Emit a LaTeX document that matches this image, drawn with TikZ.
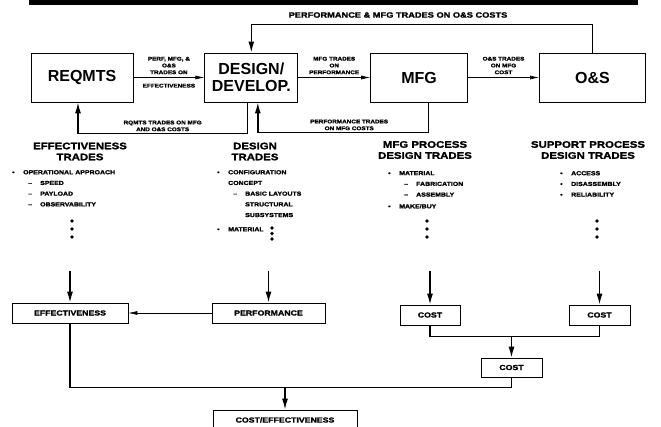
\documentclass[tikz,border=0pt]{standalone}
\usepackage{fontspec}
\setmainfont{Liberation Sans}[FakeStretch=1.2,BoldFeatures={FakeBold=1.6}]
\newfontfamily\boxfont{Liberation Sans}
\usetikzlibrary{arrows.meta,positioning,calc}
\newcommand{\bul}{\makebox[11pt][l]{\textbullet}}
\newcommand{\dsh}{\hspace*{16pt}\makebox[12pt][l]{--}}

\begin{document}
\begin{tikzpicture}[x=1pt,y=-1pt,>=Latex,
  big/.style={draw,line width=0.8pt,minimum width=#1,minimum height=49pt,inner sep=0pt,
    align=center,font=\boxfont\fontsize{16}{17}\selectfont\bfseries},
  res/.style={draw,line width=0.7pt,minimum width=#1,minimum height=20pt,inner sep=0pt,
    font=\fontsize{7.3}{8}\selectfont\bfseries},
  small/.style={font=\fontsize{5.3}{6.8}\selectfont\bfseries,align=center,inner sep=0pt},
  toplab/.style={font=\fontsize{7.7}{8}\selectfont\bfseries,inner sep=0pt},
  head/.style={font=\fontsize{9.5}{11}\selectfont\bfseries,align=center,inner sep=0pt},
  list/.style={font=\fontsize{5.8}{10.7}\selectfont\bfseries,align=left,inner sep=0pt,anchor=north west},
  flow/.style={line width=1.4pt},
  link/.style={line width=0.6pt,-{Latex[length=9pt,width=4pt]}},
  down/.style={line width=1.4pt,-{Latex[length=11pt,width=6pt]}}]
\useasboundingbox (0,0) rectangle (661,427);
\clip (0,0) rectangle (661,427);
\fill (29,0) rectangle (638,5);

% top row
\node[big=102pt] (req) at (82,77.5) {REQMTS};
\node[big=93pt, right=71pt of req] (des) {DESIGN/\\DEVELOP.};
\node[big=97pt, right=72pt of des] (mfg) {MFG};
\node[big=106pt, right=71pt of mfg] (os) {O\&S};

\draw[link] (req) -- node[small,above=3pt] {PERF, MFG, \&\\O\&S\\TRADES ON}
  node[small,below=6pt] {EFFECTIVENESS} (des);
\draw[link] (des) -- node[small,above=3pt] {MFG TRADES\\ON\\PERFORMANCE} (mfg);
\draw[link] (mfg) -- node[small,above=3pt] {O\&S TRADES\\ON MFG\\COST} (os);

\node[toplab] (fblab) at (398,15) {PERFORMANCE \& MFG TRADES ON O\&S COSTS};
\draw[down] (os.north) -- ++(0,-28) -| (des.north);

\draw[down] ([xshift=-4pt]des.south) -- ++(0,31) -|
  node[small,pos=0.25,above=1.5pt] {RQMTS TRADES ON MFG\\AND O\&S COSTS} ([xshift=-4pt]req.south);
\draw[down] ([xshift=9.5pt]mfg.south) -- ++(0,30) -|
  node[small,pos=0.25,above=1.5pt,xshift=6pt] {PERFORMANCE TRADES\\ON MFG COSTS} ([xshift=6.5pt]des.south);

% trade lists
\node[head] (effh) at (80,151.5) {EFFECTIVENESS\\TRADES};
\node[head] (desh) at (255,151.5) {DESIGN\\TRADES};
\node[head] (mfgh) at (425,150) {MFG PROCESS\\DESIGN TRADES};
\node[head] (suph) at (588,150) {SUPPORT PROCESS\\DESIGN TRADES};

\node[list] (efflist) at (12,170) {\bul OPERATIONAL APPROACH\\\dsh SPEED\\\dsh PAYLOAD\\\dsh OBSERVABILITY};
\node[list] (deslist) at (217,170) {\bul CONFIGURATION\\\hspace*{11pt}CONCEPT\\\dsh BASIC LAYOUTS\\
  \hspace*{28pt}STRUCTURAL\\\hspace*{28pt}SUBSYSTEMS\\[3.5pt]\bul MATERIAL};
\node[list] (mfglist) at (388,171) {\bul MATERIAL\\\dsh FABRICATION\\\dsh ASSEMBLY\\[1pt]\bul MAKE/BUY};
\node[list] (suplist) at (560,171) {\bul ACCESS\\\bul DISASSEMBLY\\\bul RELIABILITY};

\foreach \x in {72,427,597}
  \foreach \y in {221,229,237}
    \fill (\x,\y) circle (1.8pt);
\foreach \y in {228,233.5,239}
  \fill (272,\y) circle (1.8pt);

% bottom row
\node[res=116pt] (effbox) at (70,313) {EFFECTIVENESS};
\node[res=113pt] (perfbox) at (268.5,313) {PERFORMANCE};
\node[res=60pt] (cost1) at (430,315) {COST};
\node[res=61pt] (cost2) at (599.5,315) {COST};
\node[res=61pt,minimum height=19pt] (cost3) at (511.5,367.5) {COST};
\node[res=144pt] (cebox) at (285,420) {COST/EFFECTIVENESS};

\coordinate (effin) at ([yshift=32pt]effbox.north);
\coordinate (perfin) at ([yshift=32pt]perfbox.north);
\coordinate (cost1in) at ([yshift=34pt]cost1.north);
\coordinate (cost2in) at ([yshift=34pt]cost2.north);
\draw[down] (effin) -- (effbox.north);
\draw[down] (perfin) -- (perfbox.north);
\draw[down] (cost1in) -- (cost1.north);
\draw[down] (cost2in) -- (cost2.north);
\draw[link] (perfbox) -- (effbox);

\draw[flow] (cost1.south) -- ++(0,11) -| (cost2.south);
\coordinate (cmid) at (cost3.north |- 0,336);
\draw[down] (cmid) -- (cost3.north);
\draw[flow] (effbox.south) -- ++(0,64) -| (cost3.south);
\coordinate (cejoin) at (cebox.north |- 0,387);
\draw[down] (cejoin) -- (cebox.north);
\end{tikzpicture}
\end{document}
